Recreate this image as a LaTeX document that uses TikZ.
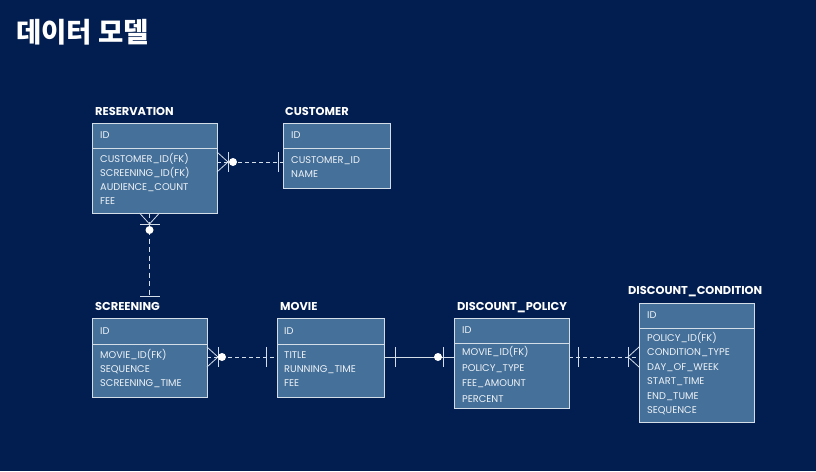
\documentclass[tikz,border=0pt]{standalone}
\usepackage{fontspec}
\setmainfont{Poppins}
\newfontfamily\cjk{Noto Sans CJK KR}
\usetikzlibrary{positioning}

\definecolor{navy}{HTML}{021E50}
\definecolor{boxfill}{HTML}{44709A}
\definecolor{boxline}{HTML}{D4DEE8}
\definecolor{reltext}{HTML}{EEF2F6}

\tikzset{
  pics/crow/.style={code={\draw (0,-10) -- (11,0) -- (0,10); \draw (11,-10) -- (11,10);}},
  pics/ring/.style={code={\fill (#1,0) circle (4);}},
  pics/bar/.style={code={\draw (#1,-10) -- (#1,10);}},
}

\begin{document}
\begin{tikzpicture}[x=1pt, y=-1pt,
    head/.style={draw=boxline, fill=boxfill, line width=0.8pt, minimum height=25,
      inner sep=0, outer sep=0, anchor=north west},
    body/.style={draw=boxline, fill=boxfill, line width=0.8pt, inner sep=0, outer sep=0},
    title/.style={anchor=base west, inner sep=0, text=white, font=\bfseries\fontsize{11.4}{13}\selectfont},
    key/.style={anchor=west, inner sep=0, text=reltext, font=\fontsize{9.8}{12}\selectfont},
    field/.style={anchor=base west, inner sep=0, text=reltext, font=\fontsize{9.8}{12}\selectfont},
    rel/.style={draw=boxline, line width=0.8pt},
    dash rel/.style={rel, dash pattern=on 4pt off 3pt},
    every pic/.style={draw=boxline, fill=white, line width=0.8pt}]
  \fill[navy] (0,0) rectangle (816,471);
  \node[anchor=base west, inner sep=0, text=white, font=\cjk\bfseries\fontsize{27.5}{32}\selectfont]
    (page-title) at (16,42.5) {데이터 모델};

  % reservation
  \node[head, minimum width=125] (reservation) at (92,123) {};
  \node[body, minimum width=125, minimum height=65, below=0pt of reservation] (reservation-body) {};
  \node[title] (reservation-title) at ([shift={(3,-8)}]reservation.north west) {RESERVATION};
  \node[key] (reservation-id) at ([xshift=8]reservation.west) {ID};
  \foreach \f [count=\i] in {CUSTOMER\_ID(FK), SCREENING\_ID(FK), AUDIENCE\_COUNT, FEE}
    \node[field] (reservation-f\i) at ([shift={(8,{14.5+14*(\i-1)})}]reservation-body.north west) {\f};

  % customer
  \node[head, minimum width=107] (customer) at (283,123) {};
  \node[body, minimum width=107, minimum height=40, below=0pt of customer] (customer-body) {};
  \node[title] (customer-title) at ([shift={(2,-8)}]customer.north west) {CUSTOMER};
  \node[key] (customer-id) at ([xshift=8]customer.west) {ID};
  \foreach \f [count=\i] in {CUSTOMER\_ID, NAME}
    \node[field] (customer-f\i) at ([shift={(8,{15.5+14*(\i-1)})}]customer-body.north west) {\f};

  % screening
  \node[head, minimum width=115, minimum height=26] (screening) at (92,318) {};
  \node[body, minimum width=115, minimum height=53, below=0pt of screening] (screening-body) {};
  \node[title] (screening-title) at ([shift={(3,-8)}]screening.north west) {SCREENING};
  \node[key] (screening-id) at ([xshift=8]screening.west) {ID};
  \foreach \f [count=\i] in {MOVIE\_ID(FK), SEQUENCE, SCREENING\_TIME}
    \node[field] (screening-f\i) at ([shift={(8,{14.5+14*(\i-1)})}]screening-body.north west) {\f};

  % movie
  \node[head, minimum width=107, minimum height=26] (movie) at (277,318) {};
  \node[body, minimum width=107, minimum height=53, below=0pt of movie] (movie-body) {};
  \node[title] (movie-title) at ([shift={(3,-8)}]movie.north west) {MOVIE};
  \node[key] (movie-id) at ([xshift=7]movie.west) {ID};
  \foreach \f [count=\i] in {TITLE, RUNNING\_TIME, FEE}
    \node[field] (movie-f\i) at ([shift={(7,{14+14*(\i-1)})}]movie-body.north west) {\f};

  % discount policy
  \node[head, minimum width=115] (policy) at (454,318) {};
  \node[body, minimum width=115, minimum height=65, below=0pt of policy] (policy-body) {};
  \node[title] (policy-title) at ([shift={(3,-8)}]policy.north west) {DISCOUNT\_POLICY};
  \node[key] (policy-id) at ([xshift=8]policy.west) {ID};
  \foreach \f [count=\i] in {MOVIE\_ID(FK), POLICY\_TYPE, FEE\_AMOUNT, PERCENT}
    \node[field] (policy-f\i) at ([shift={(8,{12.5+15.6*(\i-1)})}]policy-body.north west) {\f};

  % discount condition
  \node[head, minimum width=115] (condition) at (639,303) {};
  \node[body, minimum width=115, minimum height=94, below=0pt of condition] (condition-body) {};
  \node[title] (condition-title) at ([shift={(-11,-9)}]condition.north west) {DISCOUNT\_CONDITION};
  \node[key] (condition-id) at ([xshift=8]condition.west) {ID};
  \foreach \f [count=\i] in {POLICY\_ID(FK), CONDITION\_TYPE, DAY\_OF\_WEEK, START\_TIME, END\_TUME, SEQUENCE}
    \node[field] (condition-f\i) at ([shift={(8,{13.5+14.4*(\i-1)})}]condition-body.north west) {\f};

  % relations
  \coordinate (res-cus) at ([yshift=-14]reservation-body.north east);
  \draw[dash rel] (res-cus) -- (res-cus -| customer-body.west);
  \pic at (res-cus) {crow};
  \pic at (res-cus) {ring=16};
  \pic[rotate=180] at (res-cus -| customer-body.west) {bar=5};

  \coordinate (res-scr) at (reservation-body.south -| screening.north);
  \coordinate (scr-top) at ([yshift=22]screening.north);
  \draw[dash rel, dash pattern=on 5pt off 3.5pt] (res-scr) -- (scr-top);
  \pic[rotate=-90] at (res-scr) {crow};
  \pic[rotate=-90] at (res-scr) {ring=17};
  \pic[rotate=-90] at (scr-top) {bar=0};

  \coordinate (scr-mov) at ([yshift=-13]screening-body.north east);
  \draw[dash rel] (scr-mov) -- (scr-mov -| movie-body.west);
  \pic at (scr-mov) {crow};
  \pic at (scr-mov) {ring=15};
  \pic[rotate=180] at (scr-mov -| movie-body.west) {bar=11};

  \coordinate (mov-pol) at ([yshift=-13]movie-body.north east);
  \draw[rel] (mov-pol) -- (mov-pol -| policy-body.west);
  \pic at (mov-pol) {bar=11};
  \pic[rotate=180] at (mov-pol -| policy-body.west) {bar=11};
  \pic[rotate=180] at (mov-pol -| policy-body.west) {ring=16};

  \coordinate (pol-con) at ([yshift=-14]policy-body.north east);
  \draw[dash rel] (pol-con) -- (pol-con -| condition-body.west);
  \pic at (pol-con) {bar=9};
  \pic[rotate=180] at (pol-con -| condition-body.west) {crow};
\end{tikzpicture}
\end{document}
